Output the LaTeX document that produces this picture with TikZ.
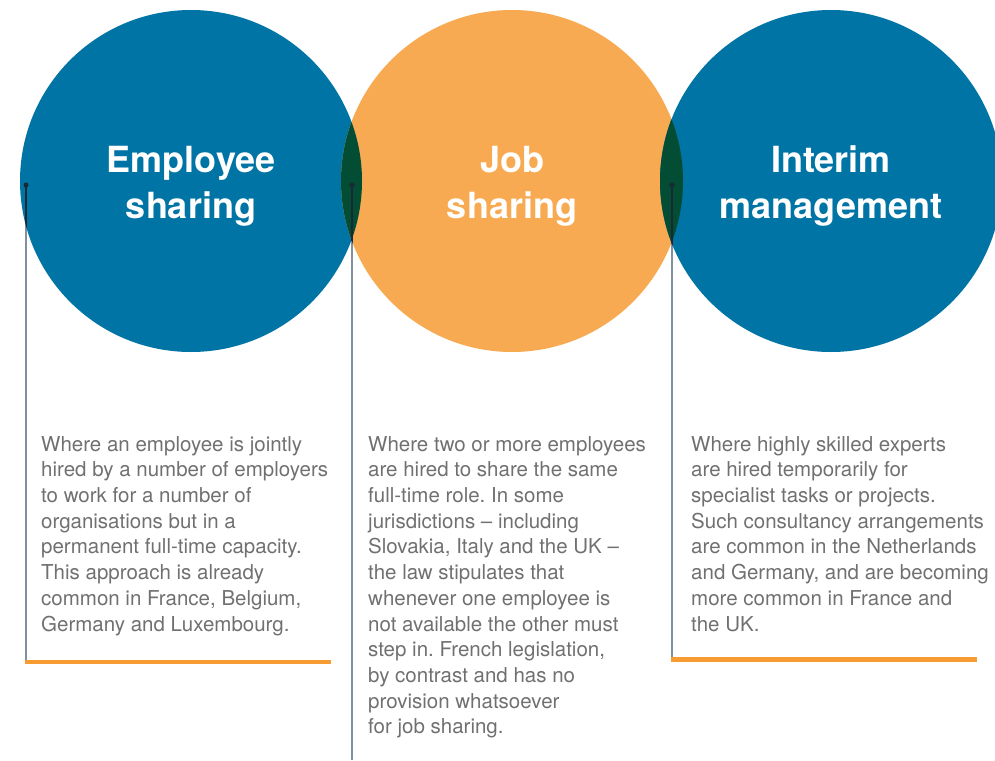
\documentclass[tikz,border=0pt]{standalone}
\usepackage{fontspec}
\setmainfont{TeX Gyre Heros}
\frenchspacing
\definecolor{cblue}{RGB}{0,116,164}
\definecolor{corange}{RGB}{248,170,82}
\definecolor{cgreen}{RGB}{3,77,52}
\definecolor{cbar}{RGB}{246,156,50}
\definecolor{ctext}{RGB}{112,112,112}
\definecolor{cline}{RGB}{130,144,158}
\definecolor{cdot}{RGB}{25,40,50}
\begin{document}
\begin{tikzpicture}[x=1pt,y=-1pt,
  bubble/.style={circle,minimum size=342pt,inner sep=0pt,draw=none},
  titletext/.style={text=white,align=center,inner sep=0pt,font={\fontsize{36}{46}\selectfont\bfseries}},
  bodytext/.style={text=ctext,align=left,inner sep=0pt,anchor=north west,font={\fontsize{20.5}{25.7}\selectfont\frenchspacing}},
  leader/.style={draw=cline,line width=1.4pt},
  dotmark/.style={circle,fill=cdot,inner sep=0pt,minimum size=5pt},
  bar/.style={draw=cbar,line width=4.4pt}]
\useasboundingbox (0,0) rectangle (995,760);
\clip (0,0) rectangle (995,760);
% circles
\node[bubble,fill=cblue] (c1) at (191,181) {};
\node[bubble,fill=corange] (c2) at (512,181) {};
\node[bubble,fill=cblue] (c3) at (831,181) {};
% overlaps
\begin{scope}
  \clip (c1.center) circle (171);
  \fill[cgreen] (c2.center) circle (171);
\end{scope}
\begin{scope}
  \clip (c2.center) circle (171);
  \fill[cgreen] (c3.center) circle (171);
\end{scope}
% titles
\node[titletext] (t1) at (191,186) {Employee\\sharing};
\node[titletext] (t2) at (512,186) {Job\\sharing};
\node[titletext] (t3) at (831,186) {Interim\\management};
% leader lines
\coordinate (d1) at (26,185);
\coordinate (e1) at (26,664);
\coordinate (d2) at (352,185);
\coordinate (e2) at (352,760);
\coordinate (d3) at (672,185);
\coordinate (e3) at (672,661);
\draw[leader] (d1) -- (e1);
\draw[leader] (d2) -- (e2);
\draw[leader] (d3) -- (e3);
\begin{scope}
  \clip (c1.center) circle (171) (c2.center) circle (171) (c3.center) circle (171);
  \draw[leader,draw=cdot] (d1) -- (e1);
  \draw[leader,draw=cdot] (d2) -- (e2);
  \draw[leader,draw=cdot] (d3) -- (e3);
\end{scope}
\node[dotmark] (m1) at (d1) {};
\node[dotmark] (m2) at (d2) {};
\node[dotmark] (m3) at (d3) {};
% bars
\coordinate (b1) at (331,662);
\coordinate (b1s) at (25.3,662);
\coordinate (b3) at (977,659.5);
\coordinate (b3s) at (671.3,659.5);
\draw[bar] (b1s) -- (b1);
\draw[bar] (b3s) -- (b3);
% body text
\node[bodytext] (x1) at (41,436) {Where an employee is jointly\\hired by a number of employers\\to work for a number of\\organisations but in a\\permanent full-time capacity.\\This approach is already\\common in France, Belgium,\\Germany and Luxembourg.};
\node[bodytext] (x2) at (368,436) {Where two or more employees\\are hired to share the same\\full-time role. In some\\jurisdictions – including\\Slovakia, Italy and the UK –\\the law stipulates that\\whenever one employee is\\not available the other must\\step in. French legislation,\\by contrast and has no\\provision whatsoever\\for job sharing.};
\node[bodytext] (x3) at (691,436) {Where highly skilled experts\\are hired temporarily for\\specialist tasks or projects.\\Such consultancy arrangements\\are common in the Netherlands\\and Germany, and are becoming\\more common in France and\\the UK.};
\end{tikzpicture}
\end{document}
